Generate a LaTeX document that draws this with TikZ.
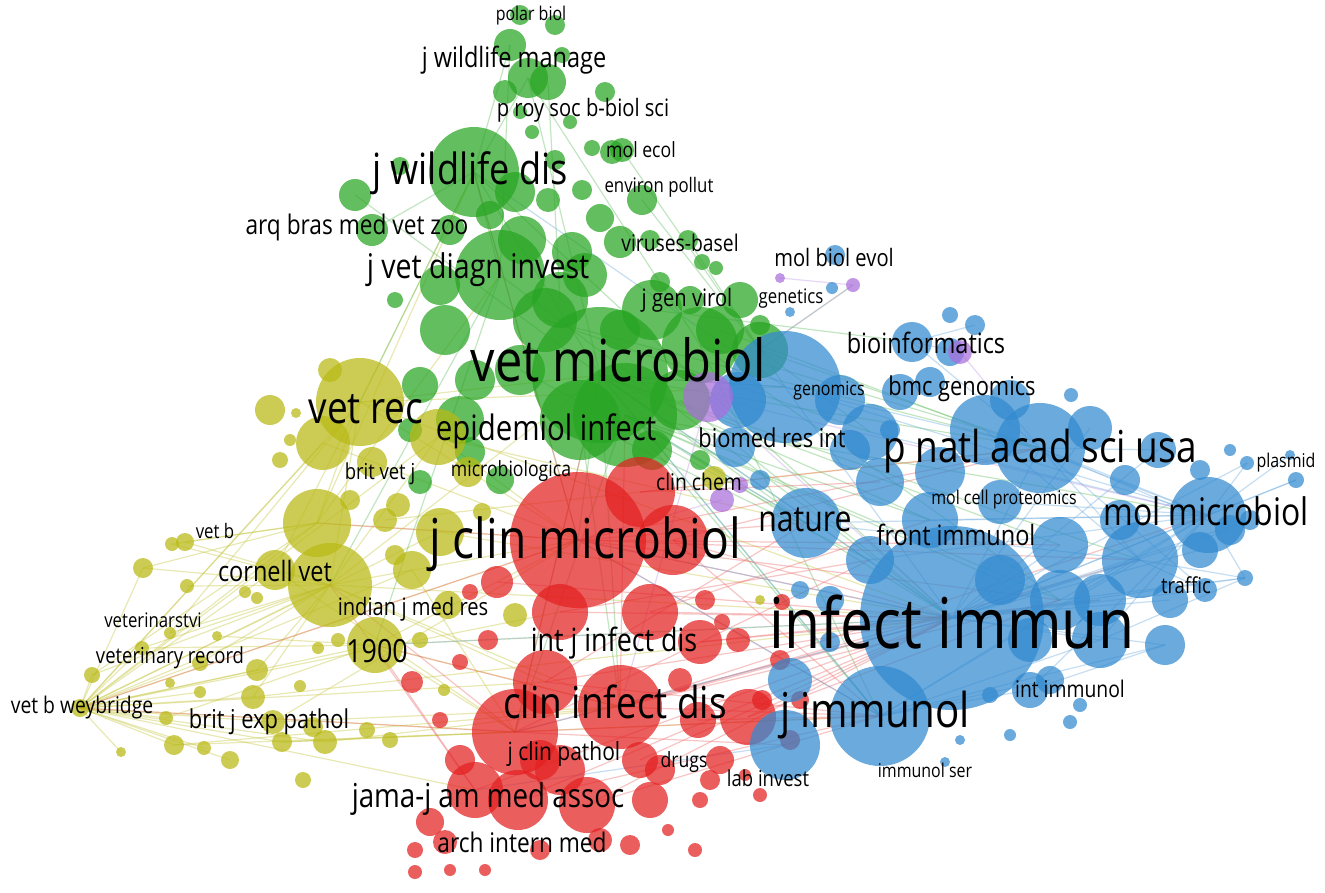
\documentclass[tikz,border=0pt]{standalone}
\usepackage{fontspec}
\usepackage{graphicx}
\setmainfont{Open Sans}
\definecolor{vgreen}{RGB}{40,165,35}
\definecolor{vyellow}{RGB}{185,185,20}
\definecolor{vred}{RGB}{228,32,32}
\definecolor{vblue}{RGB}{50,138,208}
\definecolor{vpurple}{RGB}{170,110,220}
\newcommand{\sqz}[1]{\scalebox{0.84}[1]{#1}}
\newcommand{\fs}[1]{\fontsize{#1}{#1}\selectfont}
\pgfdeclarelayer{backdrop}
\pgfdeclarelayer{edges}
\pgfdeclarelayer{labels}
\pgfsetlayers{backdrop,edges,main,labels}
\tikzset{
  bub/.style={circle, inner sep=0pt, draw=none, fill opacity=0.72},
  gbub/.style={bub, fill=vgreen},
  ybub/.style={bub, fill=vyellow},
  rbub/.style={bub, fill=vred},
  bbub/.style={bub, fill=vblue},
  pbub/.style={bub, fill=vpurple},
  link/.style={line width=1.2pt, draw opacity=0.4},
  glink/.style={link, draw=vgreen!70!white},
  ylink/.style={link, draw=vyellow!80!white},
  rlink/.style={link, draw=vred!65!white},
  blink/.style={link, draw=vblue!70!white},
  plink/.style={link, draw=vpurple!70!white},
  lab/.style={inner sep=0pt, text=black},
}
\begin{document}
\begin{tikzpicture}[x=1pt,y=-1pt]
\begin{pgfonlayer}{backdrop}
\fill[white] (0,0) rectangle (1325,892);
\end{pgfonlayer}
\useasboundingbox (0,0) rectangle (1325,892);

% ---------- green cluster ----------
\foreach \n/\x/\y/\r in {
 g1/474/172/45, g2/500/275/45, g3/600/375/68, g4/625/415/52, g5/700/345/38,
 g6/760/350/28, g7/545/320/32, g8/445/330/25, g9/420/385/18, g10/460/420/24,
 g11/355/195/16, g12/372/230/16, g13/510/45/16, g14/528/78/20, g15/548/82/18,
 g16/555/25/10, g17/520/15/10, g18/505/92/12, g19/605/92/10, g20/562/55/8,
 g21/622/150/12, g22/642/200/15, g23/600/218/14, g24/620/242/16, g25/688/240/10,
 g26/548/200/12, g27/582/190/10, g28/515/192/20, g29/522/240/24, g30/572/252/20,
 g31/560/300/28, g32/652/310/30, g33/690/300/14, g34/720/330/24, g35/660/282/10,
 g36/700/460/10, g37/652/450/20, g38/470/452/15, g39/420/482/12, g40/500/480/14,
 g41/520/112/7, g42/532/132/7, g43/570/122/7, g44/592/148/8, g45/612/152/12,
 g46/702/262/8, g47/716/268/7, g48/400/166/9, g49/440/285/20, g50/395/300/8,
 g51/450/230/15, g52/490/215/14, g53/555/160/10, g54/580/420/40, g55/680/400/30,
 g56/740/300/18, g57/760/325/10, g58/410/430/12, g59/475/380/20, g60/520/370/25,
 g61/585/275/22, g62/650/240/10, g63/620/330/20}
 \node[gbub, minimum size=2*\r] (\n) at (\x,\y) {};

% ---------- yellow cluster ----------
\foreach \n/\x/\y/\r in {
 y1/360/402/44, y2/323/443/27, y3/438/437/28, y4/330/370/12, y5/317/523/34,
 y6/330/585/42, y7/275/570/20, y8/375/645/28, y9/412/570/19, y10/440/532/24,
 y11/398/505/12, y12/143/568/10, y13/185/542/9, y14/172/544/7, y15/187/586/7,
 y16/92/675/8, y17/80/708/9, y18/121/752/5, y19/174/745/10, y20/204/748/7,
 y21/166/718/7, y22/142/648/7, y23/170/633/6, y24/200/663/8, y25/217/636/5,
 y26/170/683/5, y27/200/692/6, y28/257/670/11, y29/253/697/12, y30/300/686/6,
 y31/318/648/6, y32/338/640/7, y33/273/722/12, y34/313/727/10, y35/325/742/12,
 y36/282/742/10, y37/367/730/8, y38/390/740/8, y39/245/592/6, y40/257/598/6,
 y41/385/520/12, y42/395/555/10, y43/372/462/15, y44/468/472/15, y45/482/512/9,
 y46/448/605/14, y47/515/615/12, y48/230/760/9, y49/303/780/8, y50/290/440/6,
 y51/280/460/8, y52/350/500/10, y53/420/640/8, y54/444/690/6, y55/714/478/12,
 y56/760/600/5, y57/270/410/15, y58/296/413/5}
 \node[ybub, minimum size=2*\r] (\n) at (\x,\y) {};

% ---------- red cluster ----------
\foreach \n/\x/\y/\r in {
 r1/578/540/68, r2/640/492/35, r3/673/540/35, r4/515/732/43, r5/620/707/42,
 r6/545/682/32, r7/560/612/28, r8/650/612/28, r9/700/642/22, r10/475/790/28,
 r11/518/800/30, r12/587/805/28, r13/650/800/18, r14/640/760/18, r15/748/717/28,
 r16/698/720/18, r17/720/760/14, r18/430/822/14, r19/445/842/12, r20/415/850/8,
 r21/760/795/7, r22/745/775/6, r23/695/850/7, r24/668/830/6, r25/415/872/7,
 r26/450/870/6, r27/485/870/6, r28/497/582/16, r29/412/682/11, r30/470/592/8,
 r31/488/640/10, r32/460/662/8, r33/705/600/10, r34/722/622/8, r35/738/640/12,
 r36/790/740/10, r37/800/700/9, r38/780/660/10, r39/782/602/8, r40/762/700/10,
 r41/660/770/15, r42/560/770/25, r43/460/760/15, r44/540/850/10, r45/600/840/12,
 r46/630/845/10, r47/700/800/8, r48/710/780/10, r49/540/760/20, r50/440/720/8,
 r51/680/680/12}
 \node[rbub, minimum size=2*\r] (\n) at (\x,\y) {};

% ---------- blue cluster ----------
\foreach \n/\x/\y/\r in {
 b1/952/618/92, b2/1040/448/45, b3/985/430/35, b4/1090/428/22, b5/1158/450/18,
 b6/1208/515/38, b7/880/716/50, b8/785/745/35, b9/790/680/22, b10/806/523/35,
 b11/785/387/56, b12/738/400/28, b13/912/342/20, b14/1100/640/28, b15/1140/560/38,
 b16/1060/545/28, b17/1030/690/18, b18/1100/600/26, b19/1165/645/20, b20/1205/590/12,
 b21/1245/578/8, b22/1296/480/8, b23/1247/463/7, b24/1290/455/5, b25/1230/530/15,
 b26/1200/550/18, b27/1170/600/18, b28/1250/520/10, b29/975/325/10, b30/950/352/14,
 b31/930/382/15, b32/1071/395/7, b33/900/392/18, b34/870/432/28, b35/940/472/25,
 b36/880/482/24, b37/930/520/28, b38/1000/502/22, b39/870/560/24, b40/830/600/14,
 b41/800/590/9, b42/830/642/10, b43/1010/735/6, b44/960/740/5, b45/945/762/5,
 b46/990/695/8, b47/1050/680/14, b48/1080/705/7, b49/1070/722/7, b50/1200/470/10,
 b51/835/255/10, b52/832/288/6, b53/790/312/5, b54/850/450/20, b55/1125/480/15,
 b56/1010/400/20, b57/1120/520/20, b58/1060/600/30, b59/1000/580/25, b60/1030/640/22,
 b61/840/400/25, b62/890/430/10, b63/735/447/20, b64/760/480/10, b65/950/315/8,
 b66/1230/450/6}
 \node[bbub, minimum size=2*\r] (\n) at (\x,\y) {};

% ---------- purple cluster ----------
\foreach \n/\x/\y/\r in {
 p1/780/278/5, p2/853/285/7, p3/960/352/12, p4/708/397/25, p5/722/500/12, p6/740/485/8}
 \node[pbub, minimum size=2*\r] (\n) at (\x,\y) {};

% ---------- links ----------
\begin{pgfonlayer}{edges}
\foreach \a/\b in {y17/y6, y17/y5, y17/y8, y17/y2, y17/y1, y17/y16, y17/y12, y17/y19,
 y17/y18, y17/y21, y17/y22, y17/y24, y17/y33, y17/y29, y17/y28, y17/r1, y17/r4,
 y17/y36, y17/y35, y17/y20, y17/y48, y17/y9, y17/y7, y17/y10, y17/r7, y17/y27,
 y12/y6, y14/y5, y13/y6, y16/y6, y19/r4, y22/y8, y23/y6, y15/y6, y6/r1, y6/g3, y6/b1,
 y6/y1, y6/y3, y5/g2, y5/g1, y5/y1, y1/g1, y1/g3, y1/r1, y8/r1, y8/r4, y8/b1,
 y6/r5, y7/y1, y33/r1, y35/r5, y19/r5, y36/b7, y29/b1,
 y17/y3, y17/r6, y17/r10, y16/y5, y12/y5, y13/y5, y14/y6, y24/y6, y21/y8, y22/y6,
 y28/y6, y29/y6, y23/y1, y25/y8, y1/b1, y1/b11, y5/r1, y6/r6, y8/r5, y2/r1, y3/r1,
 y3/b10, y10/b1, y9/r4, y41/b2, y7/r4, y33/r5, y36/r4}
 \draw[ylink] (\a.center) -- (\b.center);
\foreach \a/\b in {g1/g13, g1/g14, g1/g3, g1/g2, g1/y1, g1/r1, g14/g3, g14/g5,
 g15/g31, g13/g2, g21/g6, g22/g6, g25/b11, g3/b1, g3/b11, g3/b2, g3/r1, g3/r4,
 g4/b1, g4/b7, g2/y6, g6/p2, g4/b6, g3/b10, g5/b3, g54/r5, g4/b37, g2/y8,
 g7/b2, g32/b13, g12/g1, g11/g3,
 g3/b7, g3/b15, g3/b16, g4/b10, g4/b58, g2/b1, g1/b1, g7/b34, g5/b7, g54/b39,
 g55/b1, g3/r5, g4/r4, g60/b10, g34/b3, g6/b2, g6/b34, g3/b37, g4/b59, g5/b58}
 \draw[glink] (\a.center) -- (\b.center);
\foreach \a/\b in {r1/b1, r1/b7, r1/b2, r1/b10, r4/b1, r4/b7, r4/b8, r5/b1, r5/b6,
 r6/b10, r3/b1, r11/b1, r10/y6, r4/y6, r1/y5, r5/y8, r7/b39, r8/b37, r12/b7,
 r6/b1, r2/b2, r5/b15, r15/b58, r9/b18, r1/y17, r4/y17, r10/y8,
 r1/b16, r1/b58, r1/b15, r2/b36, r3/b7, r3/b2, r5/b7, r5/b58, r4/b39, r8/b1,
 r9/b1, r6/b7, r7/b1, r12/b1, r14/b1, r11/b7, r10/b1, r28/b1, r15/b1, r16/b7,
 r1/g1, r4/g3, r5/g4}
 \draw[rlink] (\a.center) -- (\b.center);
\foreach \a/\b in {b1/b6, b1/b21, b1/b20, b1/b19, b1/g3, b1/r4, b1/r1, b6/b22, b6/b23,
 b6/b24, b6/b21, b2/b6, b2/b13, b7/r1, b7/g3, b10/g4, b11/g3, b15/b21, b14/b6,
 b7/b6, b1/b28, b7/b19, b2/b20, b1/y8, b11/g1, b8/r10, b17/b6, b13/b29,
 b1/b2, b1/b15, b1/b16, b1/b14, b1/b18, b1/b26, b1/b25, b1/b27, b1/b5, b1/b4,
 b2/b15, b2/b25, b2/b5, b7/b14, b7/b15, b7/b17, b7/b47, b10/b6, b10/b15, b11/b6,
 b11/b2, b11/b1, b3/b6, b3/b15, b34/b6, b39/b6, b37/b6, b38/b6, b58/b6, b1/b22,
 b1/b23, b14/b21, b15/b20, b17/b19, b58/b21}
 \draw[blink] (\a.center) -- (\b.center);
\foreach \a/\b in {p1/p2, p2/g6, p3/b13, p3/b2, p4/b1, p5/r1, p4/b6, p4/r5}
 \draw[plink] (\a.center) -- (\b.center);
\end{pgfonlayer}

% ---------- labels ----------
\begin{pgfonlayer}{labels}
\node[lab] (t1) at (952,622) {\fs{70}\sqz{infect immun}};
\node[lab] (t2) at (618,360) {\fs{58}\sqz{vet microbiol}};
\node[lab] (t3) at (585,544) {\fs{55}\sqz{j clin microbiol}};
\node[lab] (t4) at (1040,451) {\fs{44}\sqz{p natl acad sci usa}};
\node[lab] (t5) at (615,702) {\fs{44}\sqz{clin infect dis}};
\node[lab] (t6) at (875,715) {\fs{48}\sqz{j immunol}};
\node[lab] (t7) at (470,173) {\fs{43}\sqz{j wildlife dis}};
\node[lab] (t8) at (366,409) {\fs{44}\sqz{vet rec}};
\node[lab] (t9) at (1206,511) {\fs{38}\sqz{mol microbiol}};
\node[lab] (t10) at (805,520) {\fs{36}\sqz{nature}};
\node[lab] (t11) at (546,431) {\fs{35}\sqz{epidemiol infect}};
\node[lab] (t12) at (488,799) {\fs{33}\sqz{jama-j am med assoc}};
\node[lab] (t13) at (478,270) {\fs{34}\sqz{j vet diagn invest}};
\node[lab] (t14) at (614,643) {\fs{32}\sqz{int j infect dis}};
\node[lab] (t15) at (377,651) {\fs{32}\sqz{1900}};
\node[lab] (t16) at (275,571) {\fs{28}\sqz{cornell vet}};
\node[lab] (t17) at (926,343) {\fs{28}\sqz{bioinformatics}};
\node[lab] (t18) at (956,535) {\fs{28}\sqz{front immunol}};
\node[lab] (t19) at (962,389) {\fs{26}\sqz{bmc genomics}};
\node[lab] (t20) at (829,391) {\fs{19}\sqz{genomics}};
\node[lab] (t21) at (772,438) {\fs{26}\sqz{biomed res int}};
\node[lab] (t22) at (834,257) {\fs{24}\sqz{mol biol evol}};
\node[lab] (t23) at (791,299) {\fs{20}\sqz{genetics}};
\node[lab] (t24) at (687,300) {\fs{24}\sqz{j gen virol}};
\node[lab] (t25) at (680,243) {\fs{23}\sqz{viruses-basel}};
\node[lab] (t26) at (659,187) {\fs{20}\sqz{environ pollut}};
\node[lab] (t27) at (641,150) {\fs{21}\sqz{mol ecol}};
\node[lab] (t28) at (583,110) {\fs{24}\sqz{p roy soc b-biol sci}};
\node[lab] (t29) at (514,60) {\fs{28}\sqz{j wildlife manage}};
\node[lab] (t30) at (531,16) {\fs{19}\sqz{polar biol}};
\node[lab] (t31) at (357,227) {\fs{27}\sqz{arq bras med vet zoo}};
\node[lab] (t32) at (380,474) {\fs{22}\sqz{brit vet j}};
\node[lab] (t33) at (511,471) {\fs{21}\sqz{microbiologica}};
\node[lab] (t34) at (699,482) {\fs{23}\sqz{clin chem}};
\node[lab] (t35) at (413,609) {\fs{24}\sqz{indian j med res}};
\node[lab] (t36) at (215,531) {\fs{20}\sqz{vet b}};
\node[lab] (t37) at (153,620) {\fs{20}\sqz{veterinarstvi}};
\node[lab] (t38) at (170,658) {\fs{22}\sqz{veterinary record}};
\node[lab] (t39) at (82,708) {\fs{23}\sqz{vet b weybridge}};
\node[lab] (t40) at (269,722) {\fs{26}\sqz{brit j exp pathol}};
\node[lab] (t41) at (564,754) {\fs{25}\sqz{j clin pathol}};
\node[lab] (t42) at (684,762) {\fs{21}\sqz{drugs}};
\node[lab] (t43) at (768,778) {\fs{22}\sqz{lab invest}};
\node[lab] (t44) at (522,842) {\fs{27}\sqz{arch intern med}};
\node[lab] (t45) at (925,770) {\fs{19}\sqz{immunol ser}};
\node[lab] (t46) at (1070,689) {\fs{23}\sqz{int immunol}};
\node[lab] (t47) at (1186,585) {\fs{22}\sqz{traffic}};
\node[lab] (t48) at (1286,463) {\fs{19}\sqz{plasmid}};
\node[lab] (t49) at (1004,500) {\fs{19}\sqz{mol cell proteomics}};
\end{pgfonlayer}
\end{tikzpicture}
\end{document}
